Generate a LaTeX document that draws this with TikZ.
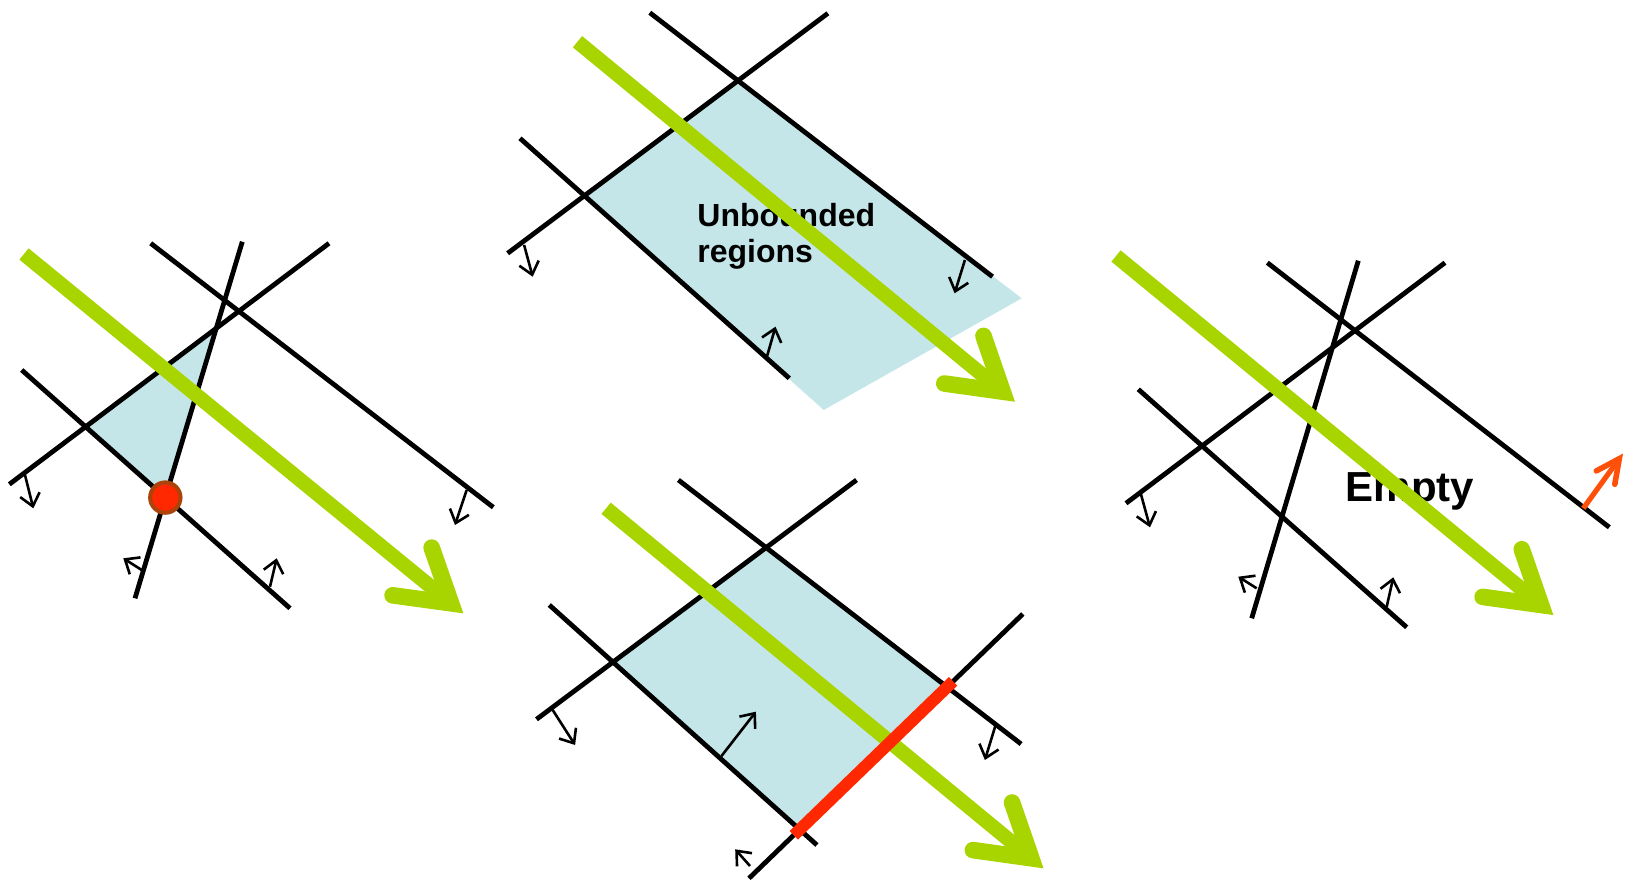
\documentclass[tikz,border=0pt]{standalone}
\usepackage{fontspec}
\setmainfont{Liberation Sans}
\usetikzlibrary{arrows.meta,calc}
\definecolor{lime}{RGB}{168,212,0}
\definecolor{lightblue}{RGB}{196,230,232}
\definecolor{segred}{RGB}{255,40,0}
\definecolor{dotbrown}{RGB}{170,68,10}
\definecolor{orangered}{RGB}{255,80,10}
\newcommand{\chevarrow}[7]{%
  % #1 shaft style, #2 barb style, #3 vertex offset, #4 barb length, #5 half angle, #6 start, #7 tip
  \coordinate (#7v) at ($(#7)!#3!(#6)$);
  \draw[#1] (#6) -- (#7v);
  \draw[#2] ($(#7v)!#4!#5:(#6)$) -- (#7v) -- ($(#7v)!#4!-#5:(#6)$);
}
\begin{document}
\begin{tikzpicture}[x=0.5pt,y=-0.5pt,
  blk/.style={line width=2.4pt,black},
  nrm/.style={line width=1.3pt,black,-{Straight Barb[length=6pt,width=10pt]}},
  region/.style={fill=lightblue},
  gshaft/.style={lime,line width=7.3pt},
  gbarb/.style={lime,line width=8.3pt,line cap=round,line join=miter},
  oshaft/.style={orangered,line width=2.6pt},
  obarb/.style={orangered,line width=2.8pt,line cap=round,line join=miter},
  lbl/.style={font=\bfseries,text=black,inner sep=0pt,anchor=base west,align=left}]
\useasboundingbox (0,0) rectangle (1629,882);

% ================= Panel 1 =================
\coordinate (A1s) at (150.7,243.3); \coordinate (A1e) at (493.3,507.3);
\coordinate (B1s) at (9.3,484.3);   \coordinate (B1e) at (329,243.3);
\coordinate (C1s) at (242.3,241.7); \coordinate (C1e) at (135,598.3);
\coordinate (D1s) at (21.7,370);    \coordinate (D1e) at (290,608.3);
\coordinate (BD1) at (intersection of B1s--B1e and D1s--D1e);
\coordinate (BC1) at (intersection of B1s--B1e and C1s--C1e);
\coordinate (CD1) at (intersection of C1s--C1e and D1s--D1e);
\fill[region,draw=black,line width=1.5pt,line join=miter] (BD1) -- (BC1) -- (CD1) -- cycle;
\draw[blk] (A1s) -- (A1e);
\draw[blk] (B1s) -- (B1e);
\draw[blk] (C1s) -- (C1e);
\draw[blk] (D1s) -- (D1e);
\coordinate (n1a) at (25,475);    \coordinate (n1at) at (33.3,508.3);
\coordinate (n1b) at (466.7,490); \coordinate (n1bt) at (455,525);
\coordinate (n1c) at (141.7,570); \coordinate (n1ct) at (123.3,558.3);
\coordinate (n1d) at (270,586.7); \coordinate (n1dt) at (276.7,558.3);
\draw[nrm] (n1a) -- (n1at);
\draw[nrm] (n1b) -- (n1bt);
\draw[nrm] (n1c) -- (n1ct);
\draw[nrm] (n1d) -- (n1dt);
\coordinate (G1s) at (24,254); \coordinate (G1t) at (463.3,613.3);
\chevarrow{gshaft}{gbarb}{7.9pt}{29.5pt}{31.5}{G1s}{G1t}
\draw[fill=segred,draw=dotbrown,line width=2pt] (CD1) circle[radius=7.6pt];

% ================= Panel 2 =================
\coordinate (A2s) at (649.8,12.7);  \coordinate (A2e) at (992.5,276.7);
\coordinate (B2s) at (507.6,253.3); \coordinate (B2e) at (827.9,13.3);
\coordinate (D2s) at (520,138.3);   \coordinate (D2e) at (789.3,378.3);
\coordinate (BD2) at (intersection of B2s--B2e and D2s--D2e);
\coordinate (BA2) at (intersection of B2s--B2e and A2s--A2e);
\coordinate (R2a) at (1021.7,298.3);
\coordinate (R2b) at (823.7,410);
\fill[region] (BD2) -- (BA2) -- (R2a) -- (R2b) -- cycle;
\draw[blk] (A2s) -- (A2e);
\draw[blk] (B2s) -- (B2e);
\draw[blk] (D2s) -- (D2e);
\coordinate (n2a) at (524.1,245);   \coordinate (n2at) at (532.7,276.7);
\coordinate (n2b) at (964.9,260);   \coordinate (n2bt) at (954.6,293.3);
\coordinate (n2d) at (766.9,356.7); \coordinate (n2dt) at (775.5,326.7);
\draw[nrm] (n2a) -- (n2at);
\draw[nrm] (n2b) -- (n2bt);
\draw[nrm] (n2d) -- (n2dt);
\node[lbl,font=\fontsize{16pt}{18.3pt}\selectfont\bfseries] (t2) at (697,263) {Unbounded\\regions};
\coordinate (G2s) at (577.5,41.7); \coordinate (G2t) at (1014.9,401.7);
\chevarrow{gshaft}{gbarb}{7.9pt}{29.5pt}{31.5}{G2s}{G2t}

% ================= Panel 3 =================
\coordinate (A3s) at (678.4,480);   \coordinate (A3e) at (1021.1,744);
\coordinate (B3s) at (536.5,719.3); \coordinate (B3e) at (856.5,480);
\coordinate (D3s) at (549.3,605);   \coordinate (D3e) at (816.9,845);
\coordinate (E3s) at (749,878.3);   \coordinate (E3e) at (1022.8,614);
\coordinate (BD3) at (intersection of B3s--B3e and D3s--D3e);
\coordinate (BA3) at (intersection of B3s--B3e and A3s--A3e);
\coordinate (AE3) at (intersection of A3s--A3e and E3s--E3e);
\coordinate (DE3) at (intersection of D3s--D3e and E3s--E3e);
\fill[region] (BD3) -- (BA3) -- (AE3) -- (DE3) -- cycle;
\draw[blk] (A3s) -- (A3e);
\draw[blk] (B3s) -- (B3e);
\draw[blk] (D3s) -- (D3e);
\draw[blk] (E3s) -- (E3e);
\coordinate (n3a) at (552.7,710);   \coordinate (n3at) at (575.1,745);
\coordinate (n3d) at (721.5,756);   \coordinate (n3dt) at (755.9,711.7);
\coordinate (n3b) at (995.3,726);   \coordinate (n3bt) at (984.9,760);
\coordinate (n3e) at (750,866);     \coordinate (n3et) at (735.2,849.3);
\draw[nrm] (n3a) -- (n3at);
\draw[nrm] (n3d) -- (n3dt);
\draw[nrm] (n3b) -- (n3bt);
\draw[nrm] (n3e) -- (n3et);
\coordinate (G3s) at (606.1,508.3); \coordinate (G3t) at (1043.5,868.3);
\chevarrow{gshaft}{gbarb}{7.9pt}{29.5pt}{31.5}{G3s}{G3t}
\coordinate (S3a) at ($(DE3)!-0.04!(AE3)$);
\coordinate (S3b) at ($(AE3)!-0.04!(DE3)$);
\draw[segred,line width=6pt] (S3a) -- (S3b);

% ================= Panel 4 =================
\coordinate (A4s) at (1267.3,262.7); \coordinate (A4e) at (1609.3,527.3);
\coordinate (B4s) at (1126,503.3);   \coordinate (B4e) at (1445,262.7);
\coordinate (C4s) at (1358.3,260.7); \coordinate (C4e) at (1251.7,618.3);
\coordinate (D4s) at (1138.3,389.3); \coordinate (D4e) at (1406.7,627.3);
\draw[blk] (A4s) -- (A4e);
\draw[blk] (B4s) -- (B4e);
\draw[blk] (C4s) -- (C4e);
\draw[blk] (D4s) -- (D4e);
\coordinate (n4a) at (1140.7,493.3); \coordinate (n4at) at (1150,527.3);
\coordinate (n4c) at (1256.7,588.3); \coordinate (n4ct) at (1238.3,576.7);
\coordinate (n4d) at (1386.7,606.7); \coordinate (n4dt) at (1393.3,577.3);
\draw[nrm] (n4a) -- (n4at);
\draw[nrm] (n4c) -- (n4ct);
\draw[nrm] (n4d) -- (n4dt);
\node[lbl,font=\fontsize{21pt}{24pt}\selectfont\bfseries] (t4) at (1345.5,501.7) {Empty};
\coordinate (G4s) at (1116,256); \coordinate (G4t) at (1553.3,615);
\chevarrow{gshaft}{gbarb}{7.9pt}{29.5pt}{31.5}{G4s}{G4t}
\coordinate (O4s) at (1583.3,508.3); \coordinate (O4t) at (1622.7,454);
\chevarrow{oshaft}{obarb}{2.9pt}{13pt}{26}{O4s}{O4t}
\end{tikzpicture}
\end{document}
